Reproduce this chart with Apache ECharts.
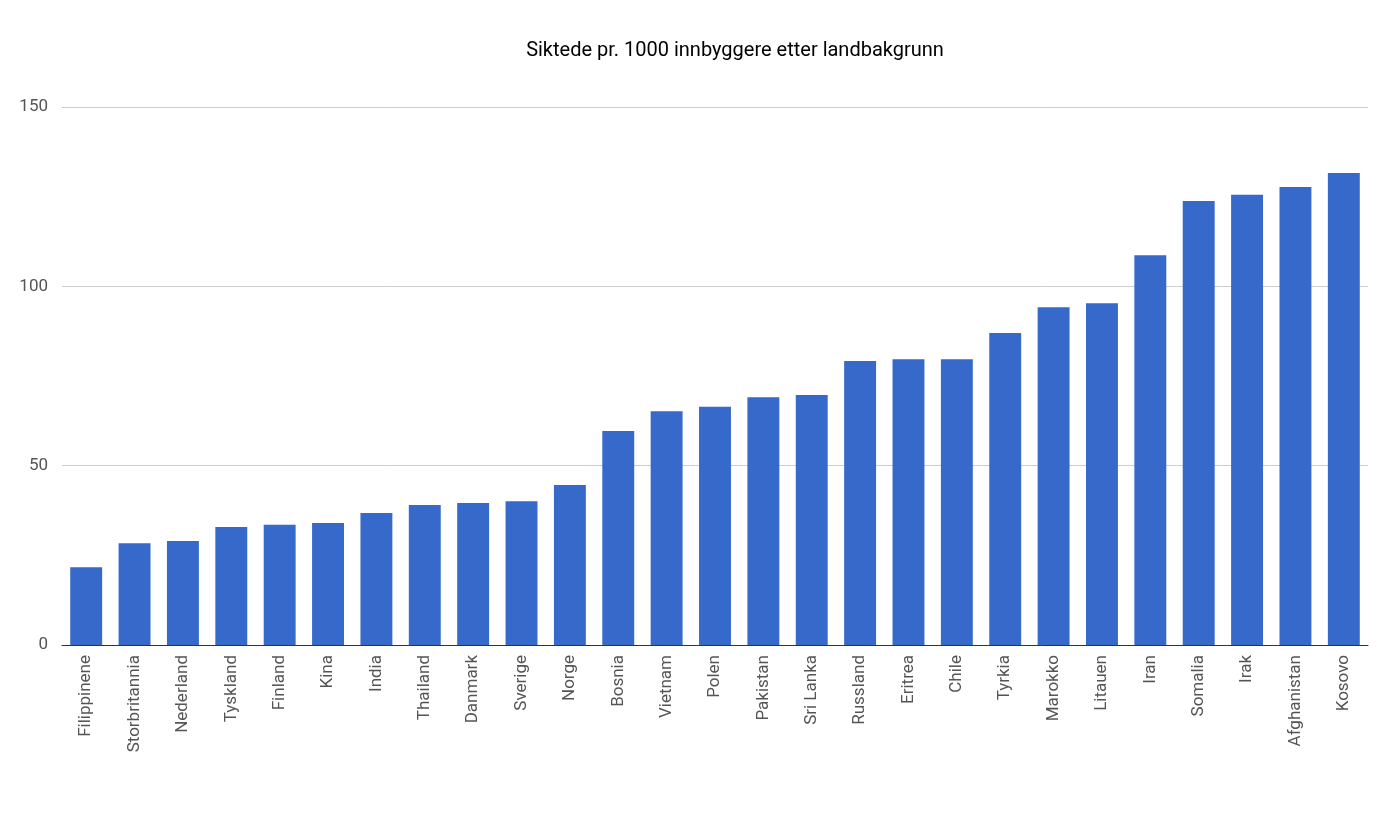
<!DOCTYPE html>
<html><head><meta charset="utf-8">
<script src="https://cdn.jsdelivr.net/npm/echarts@6/dist/echarts.min.js"></script>
<style>html,body{margin:0;background:#fff}#c{width:1390px;height:815px}</style>
</head><body><div id="c"></div>
<script>
const countries = ['Filippinene','Storbritannia','Nederland','Tyskland','Finland','Kina','India','Thailand','Danmark','Sverige','Norge','Bosnia','Vietnam','Polen','Pakistan','Sri Lanka','Russland','Eritrea','Chile','Tyrkia','Marokko','Litauen','Iran','Somalia','Irak','Afghanistan','Kosovo']
const values = [21.7,28.4,29.0,32.9,33.5,34.0,36.8,39.0,39.6,40.1,44.6,59.7,65.2,66.4,69.1,69.7,79.2,79.7,79.7,87.0,94.2,95.3,108.7,123.8,125.5,127.7,131.6]

const chart = echarts.init(document.getElementById('c'))
chart.setOption({
  animation: false,
  textStyle: { fontFamily: 'Roboto' },
  title: {
    text: 'Siktede pr. 1000 innbyggere etter landbakgrunn',
    left: 730, top: 36, textAlign: 'center',
    textStyle: { fontSize: 20, fontWeight: 'normal', color: '#000', fontFamily: 'Roboto' }
  },
  grid: { left: 62, right: 22, top: 107, bottom: 170 },
  xAxis: {
    type: 'category', data: countries,
    axisTick: { show: false },
    axisLine: { lineStyle: { color: '#333' } },
    axisLabel: { rotate: 90, color: '#555', fontSize: 17, margin: 10, interval: 0 }
  },
  yAxis: {
    type: 'value', min: 0, max: 150, interval: 50,
    axisLabel: { color: '#555', fontSize: 17, margin: 14 },
    splitLine: { lineStyle: { color: '#ccc' } }
  },
  series: [{
    type: 'bar', data: values, barCategoryGap: '34%',
    itemStyle: { color: '#3669c9' }
  }]
})
</script></body></html>
